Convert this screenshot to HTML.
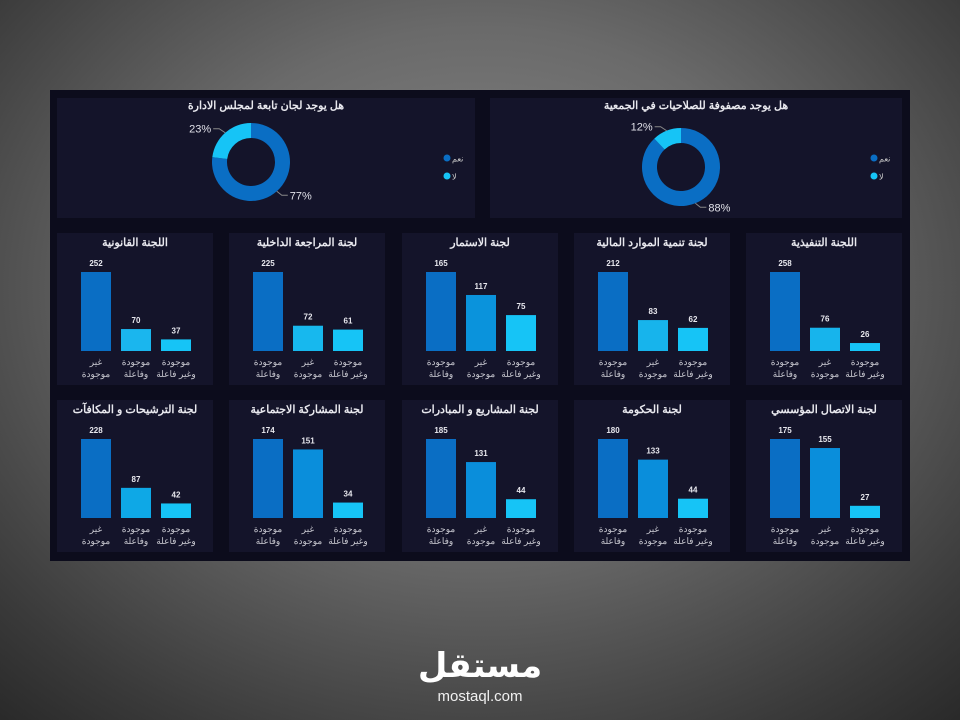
<!DOCTYPE html>
<html><head><meta charset="utf-8">
<style>
html,body{margin:0;padding:0;width:960px;height:720px;overflow:hidden;
background:radial-gradient(ellipse 75% 80% at 50% 40%,#8a8a8a 0%,#6a6a6a 45%,#3a3a3a 85%,#2a2a2a 100%);
font-family:"Liberation Sans","Noto Sans CJK SC",sans-serif;}
svg{position:absolute;left:0;top:0}
</style></head><body>
<svg id="dash" width="960" height="720"></svg>
<script>
const titles=["اللجنة القانونية","لجنة المراجعة الداخلية","لجنة الاستمار","لجنة تنمية الموارد المالية","اللجنة التنفيذية",
"لجنة الترشيحات و المكافآت","لجنة المشاركة الاجتماعية","لجنة المشاريع و المبادرات","لجنة الحكومة","لجنة الاتصال المؤسسي"];
const values=[[252,70,37],[225,72,61],[165,117,75],[212,83,62],[258,76,26],
[228,87,42],[174,151,34],[185,131,44],[180,133,44],[175,155,27]];
const catA=[["غير","موجودة"],["موجودة","وفاعلة"],["موجودة","وغير فاعلة"]];
const catB=[["موجودة","وفاعلة"],["غير","موجودة"],["موجودة","وغير فاعلة"]];
const catOrder=[0,1,1,1,1,0,1,1,1,1];
const colors=[["#0a6ec4","#1ab6ee","#16c4f6"],["#0a6ec4","#17b8ee","#16c4f6"],["#0a6ec4","#0a93dc","#16c4f6"],["#0a6ec4","#17b4ec","#16c4f6"],["#0a6ec4","#17b4ec","#16c4f6"],
["#0a6ec4","#0ea8e6","#16c4f6"],["#0a6ec4","#0a8edb","#16c4f6"],["#0a6ec4","#0a8edb","#16c4f6"],["#0a6ec4","#0a8edb","#16c4f6"],["#0a6ec4","#0a8edb","#16c4f6"]];
const donutTitles=["هل يوجد لجان تابعة لمجلس الادارة","هل يوجد مصفوفة للصلاحيات في الجمعية"];
const donutYes=[77,88];
const donutNo=[23,12];
const legendLabels=["نعم","لا"];

const NS="http://www.w3.org/2000/svg";
const svg=document.getElementById('dash');
function mk(tag,attrs,parent,text){const e=document.createElementNS(NS,tag);for(const k in attrs)e.setAttribute(k,attrs[k]);if(text!==undefined)e.textContent=text;(parent||svg).appendChild(e);return e;}
function arc(cx,cy,R,r,a0,a1){
  const p=(rad,a)=>[cx+rad*Math.cos(a),cy+rad*Math.sin(a)];
  const large=(a1-a0)>Math.PI?1:0;
  const [x0,y0]=p(R,a0),[x1,y1]=p(R,a1),[x2,y2]=p(r,a1),[x3,y3]=p(r,a0);
  return `M${x0},${y0} A${R},${R} 0 ${large} 1 ${x1},${y1} L${x2},${y2} A${r},${r} 0 ${large} 0 ${x3},${y3} Z`;
}

let bg=mk('rect',{x:50,y:90,width:860,height:471,fill:'#0c0c1c'});



const dPanels=[[57,98,418,120],[490,98,412,120]];
const dCenters=[[251,162],[681,167]];
for(let i=0;i<2;i++){
  const g=mk('g',{});
  
  
  const p=dPanels[i];
  mk('rect',{x:p[0],y:p[1],width:p[2],height:p[3],fill:'#14142a'},g);
  const t=mk('text',{x:p[0]+p[2]/2,y:109,'text-anchor':'middle',fill:'#e8e8ee','font-size':11,'font-weight':'bold',direction:'rtl'},g,donutTitles[i]);
  
  
  const [cx,cy]=dCenters[i];const R=39,r=24;
  const tot=donutYes[i]+donutNo[i];
  const top=-Math.PI/2;
  const yesEnd=top+2*Math.PI*donutYes[i]/tot;
  const yes=mk('path',{d:arc(cx,cy,R,r,top,yesEnd),fill:'#0a6ec4'},g);
  
  
  const no=mk('path',{d:arc(cx,cy,R,r,yesEnd,top+2*Math.PI),fill:'#16c4f6'},g);
  
  
  const aNo=top-Math.PI*donutNo[i]/tot;
  const nx=cx+R*Math.cos(aNo),ny=cy+R*Math.sin(aNo);
  mk('polyline',{points:`${nx},${ny} ${nx-6},${ny-4} ${nx-12},${ny-4}`,fill:'none',stroke:'#888','stroke-width':1},g);
  const l1=mk('text',{x:nx-14,y:ny,'text-anchor':'end',fill:'#e0e0e8','font-size':11},g,donutNo[i]+'%');
  
  
  const aY=top+Math.PI*donutYes[i]/tot;
  const yx=cx+R*Math.cos(aY),yy=cy+R*Math.sin(aY);
  mk('polyline',{points:`${yx},${yy} ${yx+5},${yy+4} ${yx+11},${yy+4}`,fill:'none',stroke:'#888','stroke-width':1},g);
  const l2=mk('text',{x:yx+13,y:yy+8,'text-anchor':'start',fill:'#e0e0e8','font-size':11},g,donutYes[i]+'%');
  
  
  const lx=p[0]+p[2]-28;
  [['#0a6ec4',legendLabels[0],158],['#16c4f6',legendLabels[1],176]].forEach(([c,txt,y])=>{
    const le=mk('g',{},g);
    
    
    mk('circle',{cx:lx,cy:y,r:3.5,fill:c},le);
    mk('text',{x:lx+5,y:y+3.5,'text-anchor':'start',fill:'#ccc','font-size':8},le,txt);
  });
}

const colX=[57,229,402,574,746];const rowY=[233,400];
const maxH=79;
for(let k=0;k<10;k++){
  const px=colX[k%5],py=rowY[Math.floor(k/5)];
  const g=mk('g',{});
  
  
  mk('rect',{x:px,y:py,width:156,height:152,fill:'#14142a'},g);
  const t=mk('text',{x:px+78,y:py+13,'text-anchor':'middle',fill:'#e8e8ee','font-size':11,'font-weight':'bold',direction:'rtl'},g,titles[k]);
  
  
  const vals=values[k];const mx=Math.max(...vals);
  const base=py+118;
  const cats=catOrder[k]===0?catA:catB;
  for(let j=0;j<3;j++){
    const h=vals[j]/mx*maxH;const bx=px+24+j*40;
    const b=mk('rect',{x:bx,y:base-h,width:30,height:h,fill:colors[k][j]},g);
    
    
    const v=mk('text',{x:bx+15,y:base-h-6,'text-anchor':'middle',fill:'#e8e8ee','font-size':8,'font-weight':'bold'},g,vals[j]);
    
    
    cats[j].forEach((ln,li)=>{
      const c=mk('text',{x:bx+15,y:base+14+li*12,'text-anchor':'middle',fill:'#c8c8d0','font-size':9,direction:'rtl'},g,ln);
      
      
    });
  }
}
const lg=mk('text',{x:480,y:677,'text-anchor':'middle',fill:'#ffffff','font-size':34,'font-weight':'bold',direction:'rtl','font-family':'"DejaVu Sans",sans-serif'},svg,'مستقل');


const lg2=mk('text',{x:480,y:701,'text-anchor':'middle',fill:'#f0f0f0','font-size':15,'font-family':'"Liberation Sans",sans-serif'},svg,'mostaql.com');


</script>
</body></html>
